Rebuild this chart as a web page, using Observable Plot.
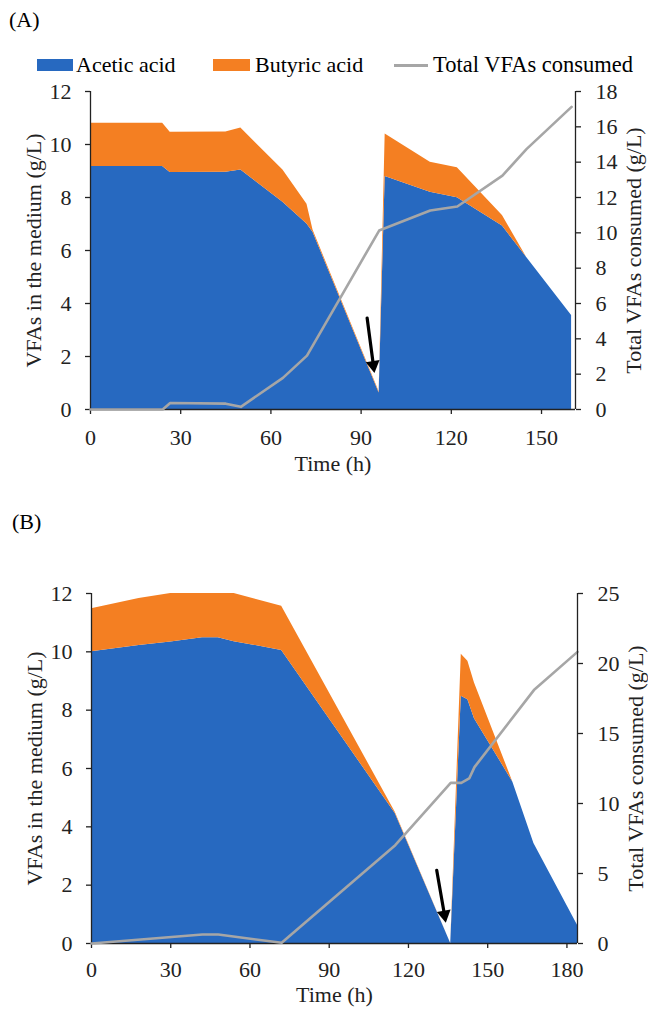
<!DOCTYPE html>
<html><head><meta charset="utf-8">
<script src="https://cdn.jsdelivr.net/npm/d3@7"></script>
<script src="https://cdn.jsdelivr.net/npm/@observablehq/plot@0.6"></script>
<style>
body{margin:0;background:#fff;}
#page{position:relative;width:648px;height:1011px;overflow:hidden;font-family:"Liberation Serif",serif;font-size:22px;color:#000;}
.abs{position:absolute;}
.txt{line-height:24px;white-space:nowrap;}
.layer{position:absolute;left:0;}
</style></head><body><div id="page"></div>
<script>
// ---------- Panel (A) data ----------
const timeA    = [0, 24, 26.5, 45, 50, 64, 72, 74, 96, 98, 113, 122, 137, 145, 160];
const aceticA  = [9.17, 9.17, 8.94, 8.95, 9.04, 7.82, 7.0, 6.69, 0.62, 8.79, 8.2, 7.99, 6.92, 5.75, 3.55];
const butyricA = [1.63, 1.63, 1.52, 1.52, 1.58, 1.22, 0.75, 0.08, 0.05, 1.61, 1.13, 1.13, 0.4, 0, 0];
const totalTimeA = [0, 24, 26.5, 45, 50, 64, 72, 96, 113, 122, 137, 145, 160];
const totalA     = [0, 0, 0.37, 0.33, 0.15, 1.79, 3.05, 10.13, 11.26, 11.49, 13.24, 14.74, 17.13];
const arrowA = [92, 3.45, 94.4, 1.4]; // x1, y1, x2, y2 (data units)

// ---------- Panel (B) data ----------
const timeB    = [0, 18, 30, 42, 48, 54, 72, 115, 136, 140, 142.5, 145, 159.5, 167.5, 184];
const aceticB  = [10.0, 10.22, 10.34, 10.48, 10.48, 10.35, 10.05, 4.46, 0, 8.48, 8.36, 7.71, 5.54, 3.43, 0.63];
const butyricB = [1.48, 1.61, 1.66, 1.52, 1.52, 1.65, 1.51, 0.04, 0, 1.44, 1.32, 1.22, 0, 0, 0];
const totalTimeB = [0, 42, 48, 72, 115, 136, 140, 143, 145, 167.5, 184];
const totalB     = [0, 0.64, 0.64, 0.05, 7.02, 11.47, 11.47, 11.79, 12.6, 18.1, 20.83];
const arrowB = [130.7, 2.51, 134.1, 0.74];

// ---------- labels / ticks ----------
const seriesNames = ["Acetic acid", "Butyric acid"];
const totalName = "Total VFAs consumed";
const xLabel = "Time (h)";
const yLabel = "VFAs in the medium (g/L)";
const rLabel = "Total VFAs consumed (g/L)";
const xTicksA = [0, 30, 60, 90, 120, 150];
const xTicksB = [0, 30, 60, 90, 120, 150, 180];
const yTicks = [0, 2, 4, 6, 8, 10, 12];
const rTicksA = [0, 2, 4, 6, 8, 10, 12, 14, 16, 18];
const rTicksB = [0, 5, 10, 15, 20, 25];

const colors = ["#2769C0", "#F47F22"];
const grey = "#A6A6A6";
const axisColor = "#222";

const page = document.getElementById("page");
function addText(str, left, top, extra) {
  const d = document.createElement("div");
  d.className = "abs txt";
  d.textContent = str;
  d.style.left = left + "px"; d.style.top = top + "px";
  if (extra) Object.assign(d.style, extra);
  page.appendChild(d);
  return d;
}
function addBox(left, top, w, h, bg) {
  const d = document.createElement("div");
  d.className = "abs";
  Object.assign(d.style, {left: left + "px", top: top + "px", width: w + "px", height: h + "px", background: bg});
  page.appendChild(d);
}

// Panel letters and legend
addText("(A)", 9, 8);
addText("(B)", 12, 510);
addBox(37, 59, 36, 12, colors[0]);
addText(seriesNames[0], 76, 53);
addBox(213, 59, 37, 12, colors[1]);
addText(seriesNames[1], 255, 53);
addBox(394, 64, 34, 2.5, grey);
addText(totalName, 433, 53, {fontSize: "22.5px"});

const font = {fontFamily: "Liberation Serif", fontSize: "22px", color: axisColor, background: "transparent", overflow: "visible"};

function panel(cfg) {
  const rows = [];
  cfg.time.forEach((t, i) => {
    rows.push({t, v: cfg.acetic[i], s: seriesNames[0]});
    rows.push({t, v: cfg.butyric[i], s: seriesNames[1]});
  });
  const lineRows = cfg.tTime.map((t, i) => ({t, v: cfg.total[i]}));
  const common = {width: 648, height: cfg.height, marginTop: cfg.mt, marginBottom: cfg.mb, marginLeft: cfg.ml, marginRight: cfg.mr, style: font};
  const main = Plot.plot({
    ...common,
    x: {domain: cfg.xDomain},
    y: {domain: [0, 12]},
    color: {domain: seriesNames, range: colors},
    marks: [
      Plot.areaY(rows, {x: "t", y: "v", fill: "s", order: seriesNames}),
      Plot.ruleX([0], {stroke: axisColor, strokeWidth: 1.3}),
      Plot.ruleY([0], {stroke: axisColor, strokeWidth: 1.3}),
      Plot.axisX({ticks: cfg.xTicks, tickSize: 5, tickPadding: cfg.xTickPad, stroke: axisColor, strokeWidth: 1.3, label: xLabel, labelAnchor: "center", labelArrow: "none", labelOffset: cfg.xLabelOffset}),
      Plot.axisY({ticks: yTicks, tickSize: 5, tickPadding: 14, stroke: axisColor, strokeWidth: 1.3, label: yLabel, labelAnchor: "center", labelArrow: "none", labelOffset: 65}),
      // annotation arrow: shaft + filled triangular head
      Plot.arrow([cfg.arrow], {x1: d => d[0], y1: d => d[1], x2: d => d[2], y2: d => d[3], stroke: "#000", strokeWidth: 3.2, headLength: 0, insetEnd: 8}),
      Plot.dot([cfg.arrow], {x: d => d[2], y: d => d[3], symbol: "triangle", r: 5.2, fill: "#000", stroke: "none", rotate: cfg.headRotate, dx: cfg.headDx, dy: cfg.headDy})
    ]
  });
  const over = Plot.plot({
    ...common,
    x: {domain: cfg.xDomain, axis: null},
    y: {domain: cfg.rDomain},
    marks: [
      Plot.line(lineRows, {x: "t", y: "v", stroke: grey, strokeWidth: 2.6}),
      Plot.ruleX([cfg.xDomain[1]], {stroke: axisColor, strokeWidth: 1.3}),
      Plot.axisY({anchor: "right", ticks: cfg.rTicks, tickSize: 5, tickPadding: 15, stroke: axisColor, strokeWidth: 1.3, label: rLabel, labelAnchor: "center", labelArrow: "none", labelOffset: 65})
    ]
  });
  [main, over].forEach(svg => {
    svg.classList.add("layer");
    svg.style.top = cfg.top + "px";
    page.appendChild(svg);
  });
}

panel({top: 80, height: 400, mt: 11, mb: 71, ml: 90, mr: 73, xDomain: [0, 161.3], xTicks: xTicksA, xTickPad: 15, xLabelOffset: 61,
  rDomain: [0, 18], rTicks: rTicksA, time: timeA, acetic: aceticA, butyric: butyricA, tTime: totalTimeA, total: totalA,
  arrow: arrowA, headRotate: 171.5, headDx: -1.1, headDy: -7.3});
panel({top: 560, height: 451, mt: 33, mb: 68, ml: 91, mr: 71, xDomain: [0, 184], xTicks: xTicksB, xTickPad: 13, xLabelOffset: 58,
  rDomain: [0, 25], rTicks: rTicksB, time: timeB, acetic: aceticB, butyric: butyricB, tTime: totalTimeB, total: totalB,
  arrow: arrowB, headRotate: 170, headDx: -1.3, headDy: -7.2});
</script>
</body></html>
